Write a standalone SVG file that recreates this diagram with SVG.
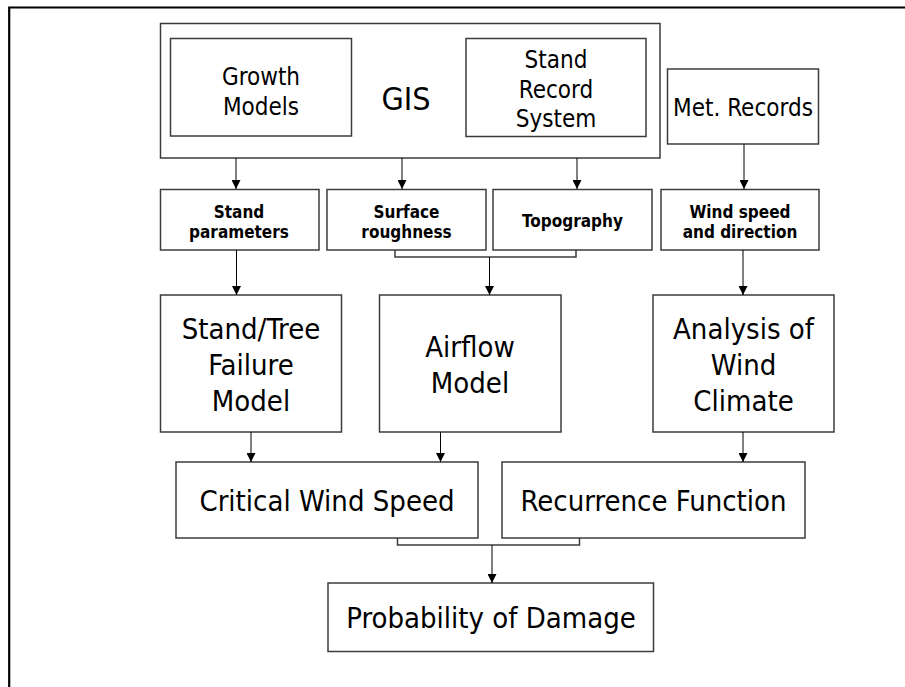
<svg xmlns="http://www.w3.org/2000/svg" width="905" height="687" viewBox="0 0 905 687">
<style>
.box{fill:#fff;stroke:#3c3c3c;stroke-width:1.5}
.t{font-family:"DejaVu Sans","Liberation Sans",sans-serif;font-stretch:condensed;fill:#000;text-anchor:middle}
.s24{font-size:24px}
.s29{font-size:29px}
.s32{font-size:32px}
.b{font-size:17px;font-weight:bold}
.ln{fill:none;stroke:#000;stroke-width:1}
.br{fill:none;stroke:#3c3c3c;stroke-width:1.5}
</style>
<defs>
<marker id="ah" viewBox="0 0 10 10" refX="10" refY="5" markerWidth="9" markerHeight="9" markerUnits="userSpaceOnUse" orient="auto">
<path d="M0,0 L10,5 L0,10 z" fill="#000"/>
</marker>
</defs>
<rect width="905" height="687" fill="#fff"/>
<g id="frame">
<path d="M9.2,687 V7.5 H905" fill="none" stroke="#000" stroke-width="2.2"/>
</g>
<g id="gis">
<rect class="box" x="160.5" y="23.5" width="499.5" height="134.5"/>
<text class="t s32" x="406" y="110">GIS</text>
</g>
<g id="growth">
<rect class="box" x="170.5" y="38.5" width="181" height="97.5"/>
<text class="t s24" x="261" y="85">Growth</text>
<text class="t s24" x="261" y="115">Models</text>
</g>
<g id="standrecord">
<rect class="box" x="466" y="38.5" width="180" height="98"/>
<text class="t s24" x="556" y="68">Stand</text>
<text class="t s24" x="556" y="98">Record</text>
<text class="t s24" x="556" y="127">System</text>
</g>
<g id="met">
<rect class="box" x="667.5" y="69" width="151" height="75"/>
<text class="t s24" x="743" y="116">Met. Records</text>
</g>
<g id="standparams">
<rect class="box" x="160.5" y="189.5" width="158.5" height="60.5"/>
<text class="t b" x="239" y="218">Stand</text>
<text class="t b" x="239" y="237.5">parameters</text>
</g>
<g id="surface">
<rect class="box" x="327" y="189.5" width="159" height="60.5"/>
<text class="t b" x="406.5" y="218">Surface</text>
<text class="t b" x="406.5" y="237.5">roughness</text>
</g>
<g id="topo">
<rect class="box" x="493" y="189.5" width="159" height="60.5"/>
<text class="t b" x="572.5" y="227">Topography</text>
</g>
<g id="windspeed">
<rect class="box" x="661" y="189.5" width="158" height="60.5"/>
<text class="t b" x="740" y="218">Wind speed</text>
<text class="t b" x="740" y="237.5">and direction</text>
</g>
<g id="standtree">
<rect class="box" x="160.5" y="295" width="181" height="137"/>
<text class="t s29" x="251" y="339">Stand/Tree</text>
<text class="t s29" x="251" y="375">Failure</text>
<text class="t s29" x="251" y="411">Model</text>
</g>
<g id="airflow">
<rect class="box" x="379.5" y="295" width="181.5" height="137"/>
<text class="t s29" x="470" y="357">Airflow</text>
<text class="t s29" x="470" y="393">Model</text>
</g>
<g id="analysis">
<rect class="box" x="653" y="295" width="181" height="137"/>
<text class="t s29" x="743.5" y="339">Analysis of</text>
<text class="t s29" x="743.5" y="375">Wind</text>
<text class="t s29" x="743.5" y="411">Climate</text>
</g>
<g id="critical">
<rect class="box" x="176" y="462" width="302" height="76"/>
<text class="t s29" x="327" y="511">Critical Wind Speed</text>
</g>
<g id="recurrence">
<rect class="box" x="502" y="462" width="303" height="76"/>
<text class="t s29" x="653.5" y="511">Recurrence Function</text>
</g>
<g id="probability">
<rect class="box" x="328" y="583" width="325.5" height="68.5"/>
<text class="t s29" x="491" y="628">Probability of Damage</text>
</g>
<g id="connectors">
<line class="ln" x1="236" y1="158" x2="236" y2="189" marker-end="url(#ah)"/>
<line class="ln" x1="402" y1="158" x2="402" y2="189" marker-end="url(#ah)"/>
<line class="ln" x1="577" y1="158" x2="577" y2="189" marker-end="url(#ah)"/>
<line class="ln" x1="744" y1="144" x2="744" y2="189" marker-end="url(#ah)"/>
<line class="ln" x1="236.5" y1="250" x2="236.5" y2="295" marker-end="url(#ah)"/>
<path class="br" d="M395,250 V257 H576 V250"/>
<line class="ln" x1="489.5" y1="257" x2="489.5" y2="295" marker-end="url(#ah)"/>
<line class="ln" x1="743" y1="250" x2="743" y2="295" marker-end="url(#ah)"/>
<line class="ln" x1="251" y1="432" x2="251" y2="462" marker-end="url(#ah)"/>
<line class="ln" x1="440.5" y1="432" x2="440.5" y2="462" marker-end="url(#ah)"/>
<line class="ln" x1="743" y1="432" x2="743" y2="462" marker-end="url(#ah)"/>
<path class="br" d="M397.5,538 V545 H579.5 V538"/>
<line class="ln" x1="492" y1="545" x2="492" y2="583" marker-end="url(#ah)"/>
</g>
</svg>
